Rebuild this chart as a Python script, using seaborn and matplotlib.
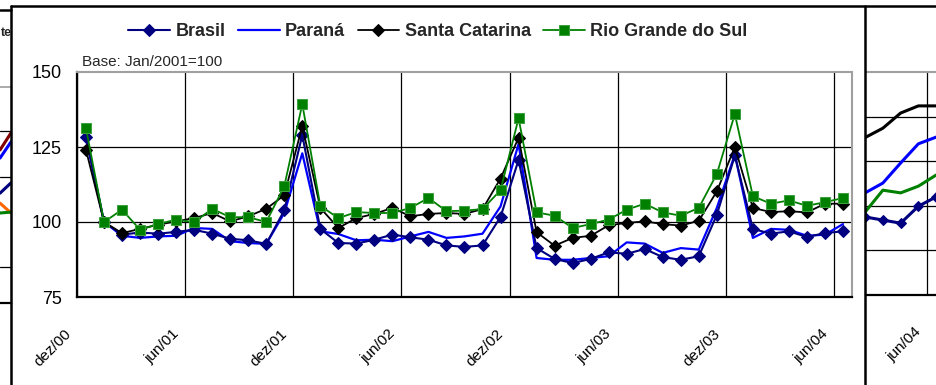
import numpy as np
import pandas as pd
import seaborn as sns
import matplotlib.pyplot as plt
from matplotlib.lines import Line2D
from matplotlib.transforms import ScaledTranslation

# Índice mensal, Base: Jan/2001=100 (dez/00 .. jun/04)
brasil = [128.4, 100.0, 95.8, 96.5, 96.1, 96.7, 97.4, 96.1, 94.4, 93.9, 92.7, 103.9, 129.0,
          97.7, 93.0, 92.8, 94.1, 95.8, 94.9, 94.1, 92.2, 91.7, 92.2, 101.7, 120.7,
          91.3, 87.7, 86.3, 87.7, 89.9, 89.4, 91.0, 88.3, 87.4, 88.6, 102.4, 122.2,
          97.7, 96.1, 96.9, 95.0, 96.3, 96.9]
parana = [128.0, 100.0, 95.4, 94.7, 95.2, 95.4, 98.0, 97.7, 93.6, 93.0, 92.7, 103.0, 122.9,
          96.9, 96.0, 93.9, 94.1, 93.6, 95.2, 96.7, 94.7, 95.2, 96.1, 105.2, 126.0,
          88.0, 87.4, 87.4, 88.0, 88.6, 93.2, 92.8, 89.7, 91.3, 90.8, 104.7, 122.5,
          94.7, 97.7, 97.4, 95.4, 95.8, 99.3]
santa_catarina = [124.0, 100.0, 96.3, 97.7, 99.1, 100.2, 101.3, 103.0, 100.2, 101.9, 104.4, 108.9, 132.0,
                  104.7, 98.0, 101.3, 102.7, 104.7, 101.9, 102.7, 103.0, 102.7, 104.3, 114.5, 128.1,
                  96.6, 92.1, 94.7, 95.4, 98.9, 99.7, 100.2, 99.3, 98.8, 100.4, 110.2, 125.0,
                  104.7, 103.3, 103.6, 103.2, 106.1, 106.1]
rio_grande_do_sul = [131.2, 100.0, 104.1, 97.4, 99.3, 100.8, 99.9, 104.4, 101.6, 101.6, 100.0, 111.9, 139.3,
                     105.4, 101.3, 103.3, 103.0, 103.0, 104.7, 108.0, 103.6, 103.8, 104.3, 110.6, 134.6,
                     103.2, 102.1, 98.0, 99.3, 100.8, 104.1, 106.1, 103.2, 102.1, 104.7, 116.0, 136.0,
                     108.6, 106.1, 107.2, 105.4, 106.6, 108.0]
tick_labels = ['dez/00', 'jun/01', 'dez/01', 'jun/02', 'dez/02', 'jun/03', 'dez/03', 'jun/04']

# fragments of the neighbouring charts that show at the image edges
right_black = [3.53, 3.74, 4.08, 4.24, 4.24]
right_blue = [2.29, 2.51, 2.96, 3.39, 3.54]
right_green = [1.86, 2.35, 2.29, 2.44, 2.69]
right_navy = [1.75, 1.68, 1.61, 1.99, 2.20]
left_lines = {'#800000': [3.40, 3.78], '#0000FF': [3.22, 3.58], '#000080': [2.44, 2.67],
              '#FF6600': [2.22, 2.00], '#008000': [2.00, 2.02]}

W, H = 936, 385


def px_box(x0, y0, x1, y1):
    return [x0 / W, 1 - y1 / H, (x1 - x0) / W, (y1 - y0) / H]


sns.set_theme(style='white')
plt.rcParams['font.family'] = ['Liberation Sans', 'DejaVu Sans']

fig = plt.figure(figsize=(W / 100, H / 100), dpi=100)

# ---- main chart ----
df = pd.DataFrame({'mes': np.arange(len(brasil)) + 0.5,
                   'Brasil': brasil, 'Paraná': parana,
                   'Santa Catarina': santa_catarina, 'Rio Grande do Sul': rio_grande_do_sul})
long = df.melt(id_vars='mes', var_name='estado', value_name='indice')

styles = {
    'Paraná': dict(color='#0000FF', lw=1.6, zorder=3),
    'Brasil': dict(color='#000080', lw=1.5, marker='D', ms=6.5, mec='#000080', zorder=4),
    'Santa Catarina': dict(color='black', lw=1.3, marker='D', ms=6.5, mec='black', zorder=5),
    'Rio Grande do Sul': dict(color='#008000', lw=1.3, marker='s', ms=6.5, mfc='#008000',
                              mec='#3ca03c', zorder=6),
}

ax = fig.add_axes(px_box(77, 72, 852, 297))
for name, st in styles.items():
    sns.lineplot(data=long[long['estado'] == name], x='mes', y='indice', ax=ax,
                 label=name, **st)
if ax.get_legend():
    ax.get_legend().remove()

ax.set_xlim(0, 43)
ax.set_ylim(75, 150)
ax.set_xticks(np.arange(0, 43, 6))
ax.set_yticks([75, 100, 125, 150])
ax.set_xticklabels(tick_labels, rotation=45, ha='right', va='center', rotation_mode='anchor')
ax.set_xlabel('')
ax.set_ylabel('')
ax.grid(True, color='black', lw=0.9)
ax.yaxis.get_gridlines()[-1].set_visible(False)
ax.tick_params(axis='y', direction='in', length=4, width=1.2, pad=11, labelsize=13, colors='black')
ax.tick_params(axis='x', direction='out', length=2, width=1.0, pad=23, labelsize=11, colors='black')
for lbl in ax.get_xticklabels():
    lbl.set_transform(lbl.get_transform() + ScaledTranslation(-6 / 72, 0, fig.dpi_scale_trans))
for side in ['left', 'bottom']:
    ax.spines[side].set_color('black')
    ax.spines[side].set_linewidth(1.6)
for side in ['top', 'right']:
    ax.spines[side].set_color('#A0A0A0')
    ax.spines[side].set_linewidth(1.5)

handles, labels = ax.get_legend_handles_labels()
order = ['Brasil', 'Paraná', 'Santa Catarina', 'Rio Grande do Sul']
hmap = dict(zip(labels, handles))
fig.legend([hmap[k] for k in order], order, loc='center', bbox_to_anchor=(438 / W, 1 - 32 / H),
           ncol=4, frameon=False, prop={'weight': 'bold', 'size': 13},
           handlelength=2.3, handletextpad=0.3, columnspacing=0.7)

fig.text(82 / W, 1 - 62 / H, 'Base: Jan/2001=100', fontsize=11, va='center', ha='left')

# ---- right fragment ----
axr = fig.add_axes(px_box(866, 72, 1010, 295))
rx = np.arange(len(right_black))
for vals, col, mk in [(right_black, 'black', None), (right_blue, '#0000FF', None),
                      (right_green, '#008000', None), (right_navy, '#000080', 'D')]:
    sns.lineplot(x=rx, y=vals, ax=axr, color=col, lw=2.2, marker=mk, ms=5, mec=col)
axr.set_xlim(0.05, 8.16)
axr.set_ylim(0, 5)
axr.set_yticks([1, 2, 3, 4])
axr.set_yticklabels([])
axr.set_xticks([3.5])
axr.set_xticklabels(['jun/04'], rotation=45, ha='right', va='center', rotation_mode='anchor')
axr.grid(True, color='black', lw=0.9)
axr.tick_params(axis='x', length=2, pad=23, labelsize=11, colors='black')
axr.tick_params(axis='y', length=0)
for lbl in axr.get_xticklabels():
    lbl.set_transform(lbl.get_transform() + ScaledTranslation(-6 / 72, 0, fig.dpi_scale_trans))
axr.spines['left'].set_visible(False)
axr.spines['right'].set_visible(False)
axr.spines['top'].set_color('#A0A0A0')
axr.spines['top'].set_linewidth(1.5)
axr.spines['bottom'].set_color('black')
axr.spines['bottom'].set_linewidth(1.6)

# ---- left fragment ----
axl = fig.add_axes(px_box(0, 87, 11, 303))
for col, vals in left_lines.items():
    sns.lineplot(x=[0, 1], y=vals, ax=axl, color=col, lw=2.2)
axl.set_xlim(0, 1)
axl.set_ylim(0, 4.8)
axl.set_yticks([0.8, 2.8, 3.82])
axl.set_xticks([])
axl.set_yticklabels([])
axl.grid(True, axis='y', color='black', lw=0.9)
axl.tick_params(length=0)
for side in ['left', 'right']:
    axl.spines[side].set_visible(False)
axl.spines['top'].set_color('#A0A0A0')
axl.spines['bottom'].set_color('black')
axl.spines['bottom'].set_linewidth(1.6)
fig.text(0.5 / W, 1 - 33 / H, 'te', fontsize=9, fontweight='bold', ha='left', va='center')

# ---- chart frames ----
fig.add_artist(Line2D([11 / W, 1], [1 - 6 / H, 1 - 6 / H], color='black', lw=1.8))
fig.add_artist(Line2D([11 / W, 11 / W], [0, 1 - 6 / H], color='black', lw=1.8))
fig.add_artist(Line2D([865 / W, 865 / W], [0, 1 - 6 / H], color='black', lw=1.8))
fig.add_artist(Line2D([0, 11 / W], [1 - 10 / H, 1 - 10 / H], color='black', lw=1.8))

fig.savefig('out.png', dpi=100, facecolor='white')
